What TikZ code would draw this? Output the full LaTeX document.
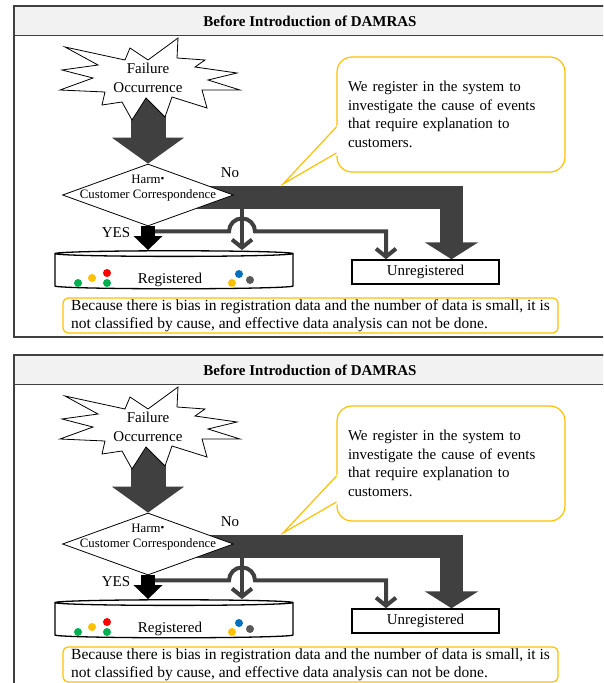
\documentclass[tikz,border=0pt]{standalone}
\usepackage{fontspec}
\setmainfont{Liberation Serif}
\newfontfamily\cjk{Noto Sans CJK JP}
\usetikzlibrary{shapes.geometric,arrows.meta,backgrounds}
\definecolor{framegray}{RGB}{64,64,64}
\definecolor{titlegray}{RGB}{242,242,242}
\definecolor{flowgray}{RGB}{64,64,64}
\definecolor{noteyellow}{RGB}{255,192,0}
\definecolor{dotgreen}{RGB}{0,176,80}
\definecolor{dotyellow}{RGB}{255,192,0}
\definecolor{dotred}{RGB}{255,0,0}
\definecolor{dotblue}{RGB}{0,112,192}
\definecolor{dotgray}{RGB}{89,89,89}
\tikzstyle{panel} = [draw=framegray, line width=1.3pt]
\tikzstyle{titlebar} = [panel, fill=titlegray]
\tikzstyle{burst} = [draw, fill=white, line width=0.8pt]
\tikzstyle{decision} = [diamond, draw, fill=white, line width=0.8pt, minimum width=171pt, minimum height=62pt, inner sep=0pt]
\tikzstyle{store} = [cylinder, shape border rotate=90, aspect=0.1, draw, fill=white, line width=1.3pt, minimum width=238pt, minimum height=38pt, inner sep=0pt]
\tikzstyle{box} = [draw, line width=1.5pt, minimum width=147pt, minimum height=24pt, inner sep=0pt]
\tikzstyle{comment} = [draw=noteyellow, fill=white, line width=1.2pt, rounded corners=15pt, align=left, text width=206pt, inner xsep=11pt, minimum height=115pt]
\tikzstyle{note} = [draw=noteyellow, line width=1.2pt, rounded corners=5pt, align=left, minimum width=495pt, inner sep=0pt, minimum height=35pt, font=\fontsize{15.5}{18}\selectfont]
\tikzstyle{fat} = [draw=flowgray]
\tikzstyle{thin} = [draw=flowgray, line width=4pt, -{Straight Barb[length=8pt,width=20pt]}]

\begin{document}
\begin{tikzpicture}[x=1pt, y=1pt, font=\fontsize{15}{18.5}\selectfont]
  \useasboundingbox (0,0) rectangle (603,-683);
  \clip (0,0) rectangle (603,-683);
  \foreach \p/\off in {a/0,b/349} {
  \begin{scope}[yshift=-\off pt]
    \draw[panel] (14,-6) rectangle (640,-337);
    \draw[titlebar] (14,-6) rectangle (640,-35.5);
    \node[font=\fontsize{15}{18}\selectfont\bfseries] (title\p) at (310,-21) {Before Introduction of DAMRAS};

    \draw[burst] (65,-47) -- (125,-60) -- (130,-48) -- (148,-60) -- (178,-38) -- (177,-58)
      -- (205,-60) -- (195,-67) -- (237,-73) -- (208,-80) -- (240,-90) -- (202,-90)
      -- (207,-108) -- (172,-97) -- (165,-117) -- (146,-98) -- (132,-120) -- (122,-102)
      -- (102,-105) -- (105,-92) -- (60,-90) -- (93,-78) -- (62,-70) -- (98,-65) -- cycle;
    \node[align=center] (failure\p) at (148,-78) {Failure\\Occurrence};

    \node[decision] (harm\p) at (148,-195) {};
    \node[align=center, font=\fontsize{12.8}{15}\selectfont] (harmtext\p) at (148,-188) {Harm{\cjk\makebox[4pt]{・}}\\Customer Correspondence};
    \node (no\p) at (230,-173) {No};
    \node (yes\p) at (116,-233) {YES};

    \node[store] (registered\p) at (174,-271.5) {\hspace*{-8pt}\raisebox{-8pt}[10pt][3pt]{Registered}};
    \foreach \c/\x/\y in {dotgreen/78/283, dotyellow/92/278, dotred/107/273, dotgreen/107/283,
                          dotblue/239/274, dotyellow/232/283, dotgray/250/280}
      \fill[\c] (\x,-\y) circle (4);
    \node[box] (unreg\p) at (425.5,-272) {Unregistered};

    \node[comment] (comment\p) at (451,-114.5) {We register in the system to\\investigate the cause of events\\that require explanation to\\customers.};
    \coordinate (pointer\p) at (283,-184);
    \fill[white] ([shift={(1.5pt,2pt)}]comment\p.west |- 0,-127) -- (pointer\p) -- ([shift={(1.5pt,-2pt)}]comment\p.west |- 0,-153) -- cycle;
    \draw[noteyellow, line width=1.2pt] (comment\p.west |- 0,-127) -- (pointer\p) -- (comment\p.west |- 0,-153);

    \node[note] (note\p) at (310.5,-315.5) {Because there is bias in registration data and the number of data is small, it is\\not classified by cause, and effective data analysis can not be done.};

    \coordinate (split\p) at (242,-197);
    \begin{pgfonlayer}{background}
      \draw[fat, line width=35pt, -{Triangle[length=26pt,width=71pt]}] (failure\p.center) -- (harm\p.north);
      \draw[fat, line width=23pt, -{Triangle[length=17pt,width=53pt]}] ([yshift=-2pt]harm\p.center) -| ([xshift=26pt]unreg\p.north);
    \end{pgfonlayer}
    \draw[thin] (split\p) -- (split\p |- registered\p.north);
    \draw[thin] ([yshift=-5pt]harm\p.south) -- ++(81,0) arc (180:0:13) -| ([xshift=-39.5pt]unreg\p.north);
    \draw[black, line width=14pt, -{Triangle[length=14pt,width=28pt]}] (harm\p.south) -- (harm\p.south |- registered\p.north);
  \end{scope}
  }
\end{tikzpicture}
\end{document}
